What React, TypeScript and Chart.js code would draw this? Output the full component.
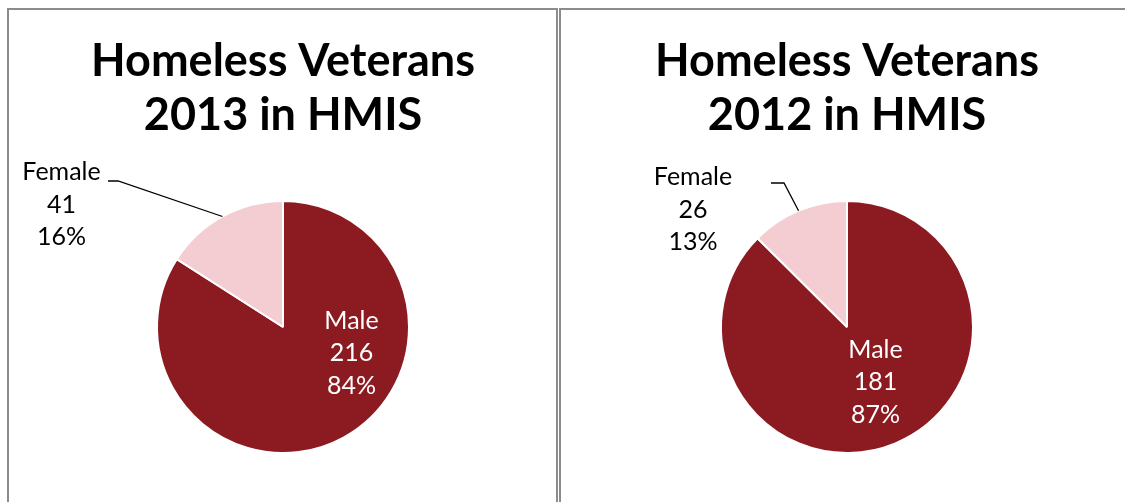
import React, { useEffect, useRef } from "react";
import { Chart, registerables } from "chart.js";

Chart.register(...registerables);

// ---- data ----
const categories = ["Male", "Female"];
const values2013 = [216, 41];
const values2012 = [181, 26];
const title2013 = ["Homeless Veterans", "2013 in HMIS"];
const title2012 = ["Homeless Veterans", "2012 in HMIS"];

// ---- styles ----
const MALE_COLOR = "#8C1B21";
const FEMALE_COLOR = "#F4CDD2";
const FONT = "Lato, 'Open Sans', sans-serif";

type LabelLayout = {
  dx: number;
  dy: number;
  color: string;
  leader?: { elbowX: number; elbowY: number; endX: number; endY: number };
};

const layout2013: LabelLayout[] = [
  { dx: 68.5, dy: 26, color: "#ffffff" },
  { dx: -221.5, dy: -122.5, color: "#000000", leader: { elbowX: -165, elbowY: -146, endX: -175, endY: -146 } },
];
const layout2012: LabelLayout[] = [
  { dx: 28.5, dy: 55, color: "#ffffff" },
  { dx: -154, dy: -117.5, color: "#000000", leader: { elbowX: -63, elbowY: -144, endX: -76, endY: -144 } },
];

const sliceLabels = {
  id: "sliceLabels",
  afterDatasetsDraw(chart: any, _args: any, opts: any) {
    const meta = chart.getDatasetMeta(0);
    const data: number[] = chart.data.datasets[0].data;
    const labels: string[] = chart.data.labels;
    const total = data.reduce((a, b) => a + b, 0);
    const ctx = chart.ctx;
    const lay: LabelLayout[] = opts.layout;
    ctx.save();
    meta.data.forEach((arc: any, i: number) => {
      const p = arc.getProps(["x", "y", "outerRadius", "startAngle", "endAngle"], true);
      const L = lay[i];
      if (L.leader) {
        const mid = (p.startAngle + p.endAngle) / 2;
        ctx.beginPath();
        ctx.moveTo(p.x + L.leader.endX, p.y + L.leader.endY);
        ctx.lineTo(p.x + L.leader.elbowX, p.y + L.leader.elbowY);
        ctx.lineTo(p.x + Math.cos(mid) * p.outerRadius, p.y + Math.sin(mid) * p.outerRadius);
        ctx.strokeStyle = "#000";
        ctx.lineWidth = 1.3;
        ctx.stroke();
      }
      const pct = Math.round((data[i] / total) * 100);
      const lines = [labels[i], String(data[i]), pct + "%"];
      ctx.font = `25px ${FONT}`;
      ctx.fillStyle = L.color;
      ctx.textAlign = "center";
      ctx.textBaseline = "middle";
      lines.forEach((t, k) => ctx.fillText(t, p.x + L.dx, p.y + L.dy + (k - 1) * 32.5));
    });
    ctx.restore();
  },
};

function PieChart(props: {
  values: number[];
  title: string[];
  layout: LabelLayout[];
  width: number;
  height: number;
  padLeft: number;
  padRight: number;
  style: React.CSSProperties;
}) {
  const ref = useRef<HTMLCanvasElement>(null);
  useEffect(() => {
    const chart = new Chart(ref.current!, {
      type: "pie",
      data: {
        labels: categories,
        datasets: [
          {
            data: props.values,
            backgroundColor: [MALE_COLOR, FEMALE_COLOR],
            borderColor: "#ffffff",
            borderWidth: 2,
            hoverBorderWidth: 2,
          },
        ],
      },
      options: {
        responsive: false,
        animation: false,
        layout: { padding: { left: props.padLeft, right: props.padRight, top: 0, bottom: 48 } },
        plugins: {
          legend: { display: false },
          tooltip: { enabled: false },
          title: {
            display: true,
            text: props.title,
            color: "#000",
            font: { family: FONT, size: 45, weight: "bold", lineHeight: "54px" },
            padding: { top: 24, bottom: 58 },
          },
          sliceLabels: { layout: props.layout },
        } as any,
      },
      plugins: [sliceLabels],
    });
    return () => chart.destroy();
  }, []);
  return <canvas ref={ref} width={props.width} height={props.height} style={props.style} />;
}

export default function App() {
  useEffect(() => {
    document.body.style.margin = "0";
    document.body.style.overflow = "hidden";
  }, []);
  const border = "2px solid #8c8c8c";
  return (
    <div style={{ position: "relative", width: 1125, height: 502, overflow: "hidden", background: "#fff" }}>
      <div style={{ position: "absolute", left: 7, top: 8, width: 551, height: 600, border, boxSizing: "border-box" }} />
      <div style={{ position: "absolute", left: 559, top: 8, width: 600, height: 600, border, boxSizing: "border-box" }} />
      <PieChart
        values={values2013}
        title={title2013}
        layout={layout2013}
        width={547}
        height={492}
        padLeft={1}
        padRight={0}
        style={{ position: "absolute", left: 9, top: 10 }}
      />
      <PieChart
        values={values2012}
        title={title2012}
        layout={layout2012}
        width={564}
        height={492}
        padLeft={8}
        padRight={0}
        style={{ position: "absolute", left: 561, top: 10 }}
      />
    </div>
  );
}
